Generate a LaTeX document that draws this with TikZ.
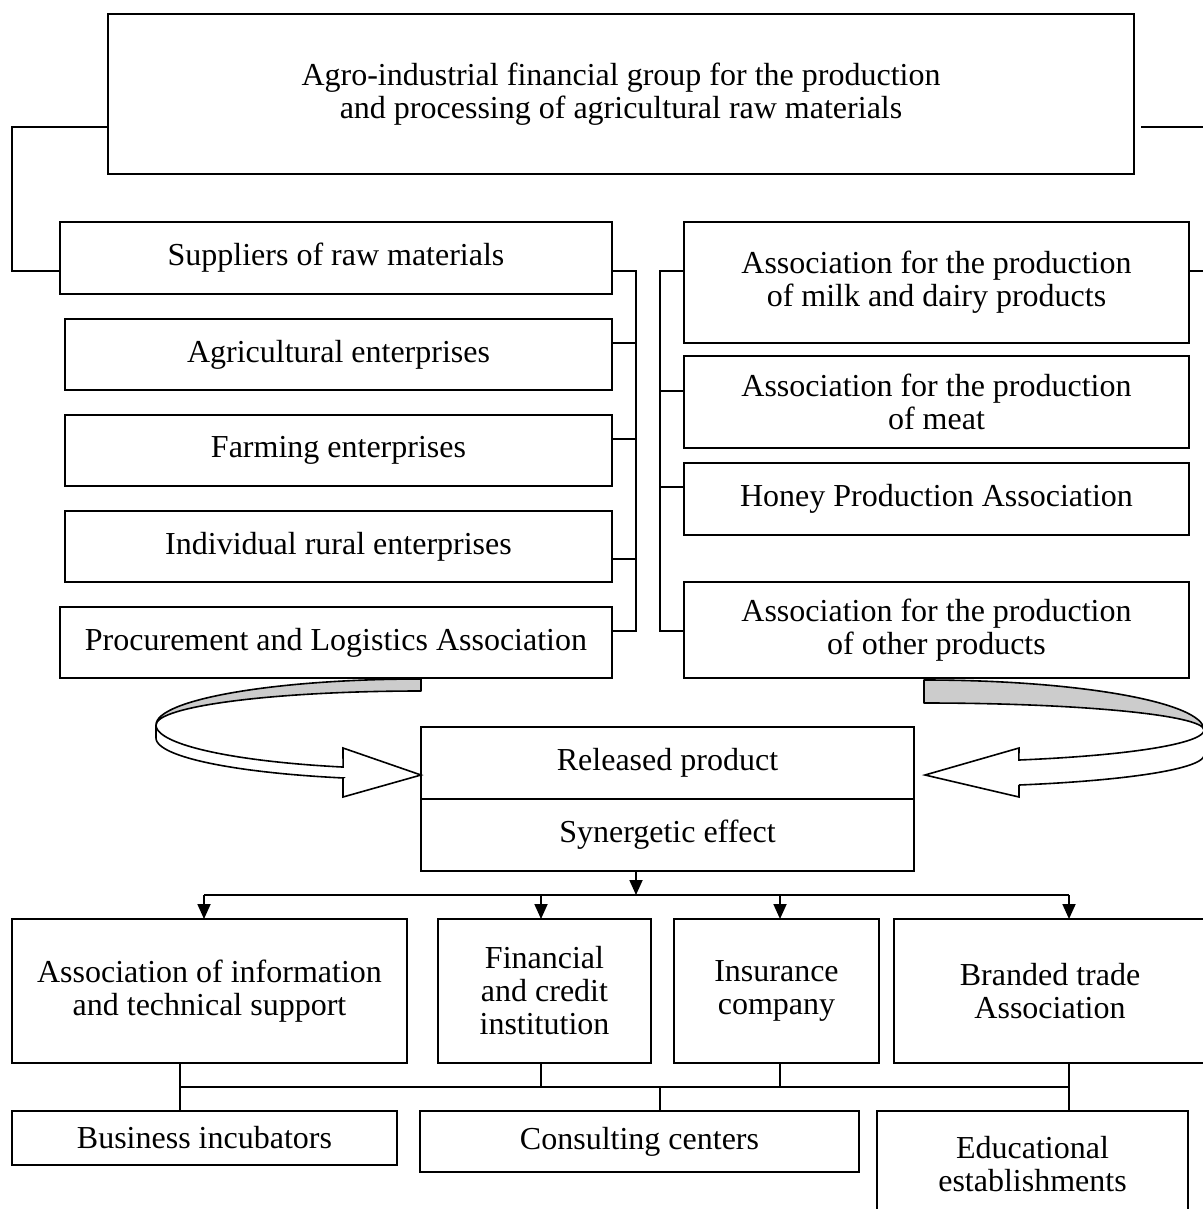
\documentclass[tikz,border=0pt]{standalone}
\usepackage{fontspec}
\setmainfont{Liberation Serif}
\usetikzlibrary{arrows.meta}
\tikzset{
  box/.style={draw, line width=1.8pt, align=center, inner sep=0pt, outer sep=0pt,
              font=\fontsize{32}{33}\selectfont},
  bx/.style 2 args={box, minimum width=#1pt, minimum height=#2pt},
  ln/.style={line width=1.8pt},
  arr/.style={ln, -{Triangle[length=15pt,width=13pt]}},
  band/.style={line width=1.6pt, fill=black!20, line join=round},
  shaft/.style={line width=1.6pt, fill=white, line join=miter},
}
\begin{document}
\begin{tikzpicture}[x=1pt,y=-1pt]
\useasboundingbox (0,0) rectangle (1202,1209);

% top
\node[bx={1026}{160}] (top) at (621,94) {Agro-industrial financial group for the production\\and processing of agricultural raw materials};

% left column
\node[bx={552}{72}] (sup) at (336,258) {Suppliers of raw materials};
\node[bx={547}{71}] (agr) at (338.5,354.5) {Agricultural enterprises};
\node[bx={547}{71}] (farm) at (338.5,450.5) {Farming enterprises};
\node[bx={547}{71}] (indiv) at (338.5,546.5) {Individual rural enterprises};
\node[bx={552}{71}] (proc) at (336,642.5) {Procurement and Logistics Association};

% right column
\node[bx={505}{121}] (milk) at (936.5,282.5) {Association for the production\\of milk and dairy products};
\node[bx={505}{92}] (meat) at (936.5,402) {Association for the production\\of meat};
\node[bx={505}{72}] (honey) at (936.5,499) {Honey Production Association};
\node[bx={505}{96}] (other) at (936.5,630) {Association for the production\\of other products};

% centre
\node[bx={493}{72}] (rel) at (667.5,763) {Released product};
\node[bx={493}{72}] (syn) at (667.5,835) {Synergetic effect};

% service row
\node[bx={395}{144}] (info) at (209.5,991) {Association of information\\and technical support};
\node[bx={213}{144}] (fin) at (544.5,991) {Financial\\and credit\\institution};
\node[bx={205}{144}] (ins) at (776.5,991) {Insurance\\company};
\node[bx={312}{144}] (brand) at (1050,991) {Branded trade\\Association};

% bottom row
\node[bx={385}{54}] (busi) at (204.5,1138) {Business incubators};
\node[bx={439}{61}] (cons) at (639.5,1141.5) {Consulting centers};
\node[bx={311}{106}] (edu) at (1032.5,1164) {Educational\\establishments};

% top connectors
\coordinate (lcon) at (12,127);
\coordinate (rcon) at (1216,127);
\draw[ln] ([yshift=-33pt]top.west) -| (lcon) |- ([yshift=-13pt]sup.west);
\draw[ln] ([xshift=7pt,yshift=-33pt]top.east) -| (rcon) |- ([yshift=11.5pt]milk.east);

% left bus
\coordinate (lbus) at (636,631);
\draw[ln] ([yshift=-13pt]sup.east) -| (lbus) |- ([yshift=11.5pt]proc.east);
\draw[ln] ([yshift=11.5pt]agr.east) -- ++(24,0);
\draw[ln] ([yshift=11.5pt]farm.east) -- ++(24,0);
\draw[ln] ([yshift=-12.5pt]indiv.east) -- ++(24,0);

% right bus
\coordinate (rbus) at (660,631);
\draw[ln] ([yshift=11.5pt]milk.west) -| (rbus) |- ([yshift=-1pt]other.west);
\draw[ln] ([yshift=11pt]meat.west) -- ++(-24,0);
\draw[ln] ([yshift=12pt]honey.west) -- ++(-24,0);

% left curved arrow
\filldraw[band] (421,679) .. controls (274.6,679) and (156,699.6) .. (156,725)
   .. controls (156,706.2) and (274.6,691) .. (421,691) -- cycle;
\filldraw[shaft] (156,725) -- plot[domain=180:107.1, samples=40] ({421+265*cos(\x)},{725+44*sin(\x)})
   -- (343,748) -- (421,775) -- (343,797) -- (343,778)
   -- plot[domain=107.1:180, samples=40] ({421+265*cos(\x)},{738+41.8*sin(\x)}) -- cycle;

% right curved arrow
\filldraw[band] (924,680) .. controls (1078.6,680) and (1204,702.4) .. (1204,730)
   .. controls (1204,715.1) and (1078.6,703) .. (924,703) -- cycle;
\filldraw[shaft] (1204,730) -- plot[domain=0:70.2, samples=40] ({924+280*cos(\x)},{730+31.9*sin(\x)})
   -- (1019,748) -- (925,775) -- (1019,797) -- (1019,785)
   -- plot[domain=70.2:0, samples=40] ({924+280*cos(\x)},{755+31.9*sin(\x)}) -- cycle;

% distribution bus
\coordinate (sa) at (636,895);
\coordinate (b1) at (204,895);
\coordinate (b2) at (541,895);
\coordinate (b3) at (780,895);
\coordinate (b4) at (1069,895);
\draw[arr] (sa |- syn.south) -- (sa);
\draw[ln] (b1) -- (b4);
\draw[arr] (b1) -- (b1 |- info.north);
\draw[arr] (b2) -- (b2 |- fin.north);
\draw[arr] (b3) -- (b3 |- ins.north);
\draw[arr] (b4) -- (b4 |- brand.north);

% lower bus
\coordinate (c1) at (180,1087);
\coordinate (c2) at (541,1087);
\coordinate (c3) at (780,1087);
\coordinate (c4) at (1069,1087);
\coordinate (c5) at (660,1087);
\draw[ln] (c1) -- (c4);
\draw[ln] (c1 |- info.south) -- (c1 |- busi.north);
\draw[ln] (c2 |- fin.south) -- (c2);
\draw[ln] (c3 |- ins.south) -- (c3);
\draw[ln] (c4 |- brand.south) -- (c4 |- edu.north);
\draw[ln] (c5) -- (c5 |- cons.north);
\end{tikzpicture}
\end{document}
